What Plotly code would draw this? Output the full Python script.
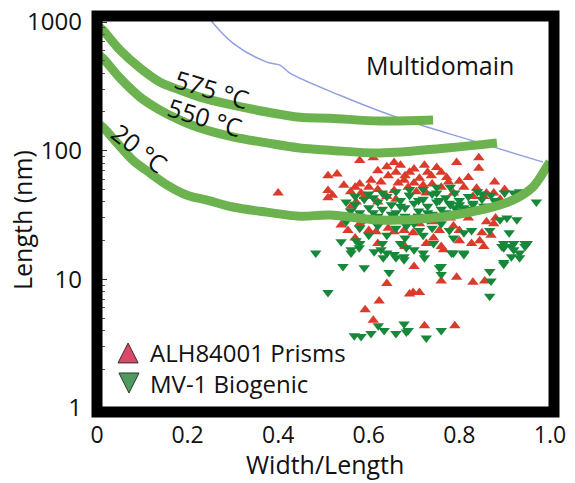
import plotly.graph_objects as go

# ---------------- data ----------------
x_tickvals = [0, 0.2, 0.4, 0.6, 0.8, 1.0]
x_ticktext = ["0", "0.2", "0.4", "0.6", "0.8", "1.0"]
y_tickvals = [1, 10, 100, 1000]
y_ticktext = ["1", "10", "100", "1000"]

c575_x = [0.0, 0.013, 0.051, 0.095, 0.139, 0.183, 0.227, 0.30, 0.375, 0.448, 0.514, 0.625, 0.742]
c575_y = [950, 865, 605, 439, 341, 296, 261, 226, 200, 182, 179, 170, 173]

c550_x = [0.0, 0.013, 0.051, 0.095, 0.139, 0.183, 0.227, 0.30, 0.375, 0.448, 0.514, 0.625, 0.773, 0.883]
c550_y = [570, 524, 366, 261, 207, 173, 150, 128, 115, 105, 101, 96, 105, 115]

c20_x = [0.0, 0.013, 0.044, 0.079, 0.117, 0.155, 0.199, 0.243, 0.30, 0.375, 0.448, 0.514, 0.625, 0.735, 0.845, 0.918, 0.962, 0.993, 1.0]
c20_y = [165, 152, 115, 84.5, 67, 54, 45, 41.3, 36.5, 33.3, 31, 31.6, 28.9, 29.9, 34.5, 41.3, 52, 75, 82]

md_x = [0.24, 0.30, 0.375, 0.404, 0.426, 0.536, 0.662, 0.773, 0.845, 0.985]
md_y = [1150, 686, 488, 462, 401, 270, 182, 137, 115, 81.5]

alh_x = [0.40, 0.51, 0.53, 0.545, 0.51, 0.51, 0.52, 0.58, 0.61, 0.656, 0.67, 0.605, 0.627, 0.643,
         0.583, 0.59, 0.572, 0.561, 0.665, 0.678, 0.656,
         0.794, 0.843, 0.843, 0.723, 0.75, 0.738, 0.712, 0.772, 0.776, 0.81, 0.838, 0.878, 0.86,
         0.876, 0.854, 0.787, 0.687, 0.705, 0.727,
         0.86, 0.876, 0.85, 0.845, 0.80, 0.787, 0.756, 0.743, 0.712, 0.698, 0.727, 0.827,
         0.70, 0.76, 0.794, 0.83, 0.856, 0.698, 0.712, 0.723, 0.79, 0.765, 0.854,
         0.64, 0.623, 0.592, 0.61, 0.69,
         0.554, 0.539, 0.60, 0.616, 0.643, 0.656, 0.678,
         0.62, 0.64, 0.69, 0.70, 0.73, 0.76, 0.66, 0.68, 0.60, 0.62, 0.58, 0.74, 0.76, 0.80,
         0.82, 0.70, 0.72, 0.64, 0.66, 0.56, 0.57, 0.83, 0.90, 0.89, 0.62, 0.55, 0.58, 0.64,
         0.66, 0.70, 0.74, 0.78, 0.82, 0.88, 0.57, 0.62, 0.68, 0.76, 0.87, 0.80]
alh_y = [47, 64, 66, 54, 49, 43, 45, 84, 88, 81, 77, 59, 57, 64,
         47, 44, 40, 37, 56, 59, 49,
         81, 88, 73, 77, 74, 64, 61, 62, 57, 52, 51, 57, 47,
         47, 44, 47, 52, 48, 47,
         28, 27, 23, 20, 20, 26, 24, 21, 27, 23, 19, 19,
         12.6, 9.7, 10.4, 9.5, 9.7, 7.9, 7.9, 4.35, 4.35, 17, 18,
         9.3, 6.8, 5.8, 4.8, 7.7,
         24, 26.5, 24, 23.4, 25, 23.4, 24,
         70, 75, 68, 72, 68, 68, 68, 64, 52, 50, 55, 55, 52, 58,
         62, 56, 54, 44, 42, 48, 52, 44, 50, 42, 40, 30, 27, 28,
         30, 30, 28, 30, 30, 30, 21, 19, 18, 18, 22, 24]

mv1_x = [0.56, 0.57, 0.58, 0.59, 0.60, 0.61, 0.62, 0.63, 0.64, 0.65, 0.66, 0.67, 0.68, 0.69,
         0.70, 0.71, 0.72, 0.73, 0.74, 0.75, 0.76, 0.77, 0.78, 0.79, 0.80, 0.81, 0.82, 0.83,
         0.84, 0.85, 0.86, 0.87, 0.88, 0.57, 0.60, 0.63, 0.66, 0.69, 0.72, 0.75, 0.78, 0.58,
         0.62, 0.65, 0.68, 0.71, 0.74, 0.77, 0.80, 0.83, 0.55, 0.61, 0.67, 0.73, 0.79, 0.85,
         0.69, 0.71, 0.75, 0.756, 0.778, 0.80, 0.83, 0.854, 0.878, 0.90, 0.92, 0.933, 0.97,
         0.905, 0.927, 0.89, 0.683, 0.712, 0.778, 0.81, 0.827, 0.867, 0.91, 0.92, 0.95, 0.898,
         0.787,
         0.683, 0.723, 0.756, 0.76, 0.787, 0.81, 0.867, 0.87, 0.867, 0.898, 0.898, 0.92, 0.933,
         0.945, 0.687, 0.727, 0.76,
         0.483, 0.543, 0.59, 0.645, 0.51, 0.561, 0.579, 0.612, 0.632, 0.656, 0.678, 0.568,
         0.583, 0.605, 0.621, 0.634, 0.66, 0.678, 0.683,
         0.572, 0.561, 0.539, 0.58, 0.627, 0.64, 0.66, 0.678, 0.70, 0.72, 0.743, 0.76, 0.783,
         0.81, 0.894, 0.915, 0.915, 0.933, 0.945, 0.898,
         0.55, 0.58, 0.60, 0.62, 0.64, 0.66, 0.68, 0.70, 0.72, 0.74, 0.76, 0.63, 0.67, 0.59, 0.73]
mv1_y = [34, 38, 33, 42, 36, 33, 40, 35, 44, 38, 33, 41, 36, 45,
         39, 34, 42, 37, 46, 40, 35, 43, 38, 47, 41, 36, 44, 39,
         48, 42, 37, 45, 40, 44, 46, 47, 48, 50, 50, 52, 52, 31,
         31, 32, 31, 31, 32, 33, 34, 35, 40, 43, 37, 33, 36, 46,
         45, 41, 47, 41, 39, 38, 38, 37, 41, 47, 47, 48, 40,
         30, 29, 29, 26, 24, 24, 23, 24, 24, 23, 19, 19, 19,
         21,
         17.6, 14.7, 12.3, 10.9, 16, 15.6, 11.5, 9.7, 7.4, 17.6, 13.1, 17, 14.7,
         18, 4.0, 3.5, 4.0,
         16, 12.6, 12.3, 11.3, 7.9, 16, 17.6, 16.4, 14.7, 15.6, 14.2, 3.65,
         3.6, 3.8, 4.35, 4.0, 3.8, 4.5, 3.9,
         20, 17, 19.6, 19, 17, 16, 14.7, 15, 17, 16, 19, 12.6, 16,
         16, 18, 18, 15, 16, 19, 13.5,
         28, 25, 22, 26, 22, 25, 21, 27, 22, 25, 27, 19, 19, 29, 29]

curve_labels = ["575 °C", "550 °C", "20 °C"]
legend_names = ["ALH84001 Prisms", "MV-1 Biogenic"]

# ---------------- figure ----------------
green = "#6cb24e"
font = "Open Sans, Noto Sans, sans-serif"
ink = "#111"

fig = go.Figure()
fig.add_trace(go.Scatter(x=md_x, y=md_y, mode="lines", line=dict(color="#8fa2de", width=1.5),
                         line_shape="spline", hoverinfo="skip"))
fig.add_trace(go.Scatter(x=alh_x, y=alh_y, mode="markers", name=legend_names[0],
                         marker=dict(symbol="triangle-up", size=10, color="#dc3b2b", line=dict(width=0))))
fig.add_trace(go.Scatter(x=mv1_x, y=mv1_y, mode="markers", name=legend_names[1],
                         marker=dict(symbol="triangle-down", size=10, color="#17883a", line=dict(width=0))))
for cx, cy in [(c575_x, c575_y), (c550_x, c550_y), (c20_x, c20_y)]:
    fig.add_trace(go.Scatter(x=cx, y=cy, mode="lines", line=dict(color=green, width=9),
                             line_shape="spline", hoverinfo="skip"))


def ann(text, x, y, size, angle=0, xanchor="center", align="center"):
    return dict(xref="paper", yref="paper", x=x, y=y, text=text, textangle=angle,
                xanchor=xanchor, yanchor="middle", showarrow=False, align=align,
                font=dict(family=font, size=size, color=ink))


anns = [
    ann(curve_labels[0], 0.252, 0.815, 25, 17),
    ann(curve_labels[1], 0.236, 0.745, 25, 17),
    ann(curve_labels[2], 0.094, 0.667, 25, 38),
    ann("Multidomain", 0.751, 0.876, 25),
    ann(legend_names[0] + "<br>" + legend_names[1], 0.111, 0.111, 24, xanchor="left", align="left"),
    ann("Length (nm)", -0.164, 0.485, 25, -90),
    ann("Width/Length", 0.499, -0.131, 25),
]

shapes = [
    dict(type="rect", xref="paper", yref="paper", x0=0, x1=1, y0=0, y1=1,
         line=dict(color="black", width=11), layer="above"),
    dict(type="path", xref="paper", yref="paper",
         path="M 0.046 0.124 L 0.090 0.124 L 0.068 0.174 Z",
         fillcolor="#d94a68", line=dict(color="#3a2a2a", width=1)),
    dict(type="path", xref="paper", yref="paper",
         path="M 0.048 0.0985 L 0.092 0.0985 L 0.070 0.048 Z",
         fillcolor="#4f9a5e", line=dict(color="#2a3a2a", width=1)),
]

fig.update_layout(
    template="none",
    width=575, height=483,
    margin=dict(l=97, r=21, t=16, b=71, autoexpand=False),
    paper_bgcolor="white", plot_bgcolor="white",
    showlegend=False,
    annotations=anns, shapes=shapes,
    font=dict(family=font, color=ink),
)
fig.update_xaxes(range=[0, 1.009], tickvals=x_tickvals, ticktext=x_ticktext, automargin=False,
                 showgrid=False, zeroline=False, showline=False, ticks="",
                 ticklabeloverflow="allow",
                 ticklabelstandoff=7, tickfont=dict(family=font, size=23, color=ink))
fig.update_yaxes(type="log", range=[-0.031, 3.047], tickvals=y_tickvals, ticktext=y_ticktext,
                 automargin=False, ticklabeloverflow="allow",
                 showgrid=False, zeroline=False, showline=False,
                 ticks="inside", ticklen=10, tickcolor="#333", tickwidth=1,
                 minor=dict(ticks="inside", ticklen=8, tickcolor="#555", dtick="D1", showgrid=False),
                 ticklabelstandoff=14, tickfont=dict(family=font, size=24, color=ink))

# remove the browser's default 8px body margin so the figure fills the window exactly
fig.write_html("out.html", config={"displayModeBar": False},
               post_script="document.body.style.margin='0px';")
